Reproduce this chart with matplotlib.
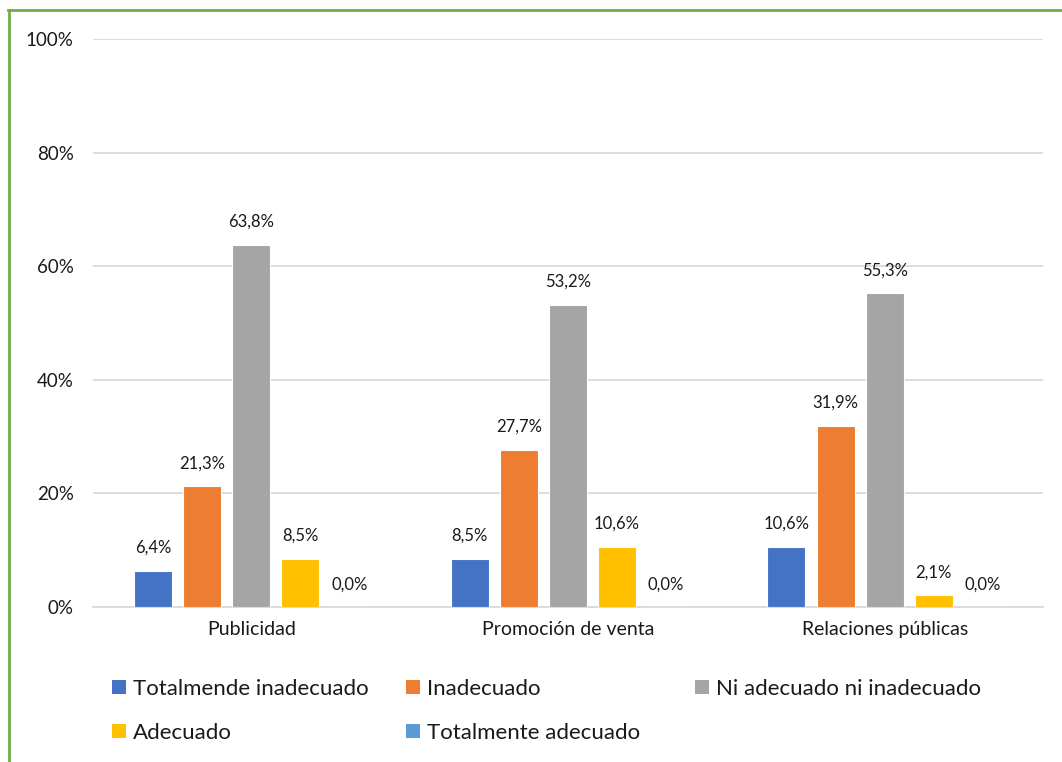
import matplotlib.pyplot as plt
import numpy as np
from matplotlib.lines import Line2D
from matplotlib.patches import Rectangle

plt.rcParams['font.family'] = ['Lato', 'DejaVu Sans']

categories = ["Publicidad", "Promoción de venta", "Relaciones públicas"]
series_names = [
    "Totalmende inadecuado",
    "Inadecuado",
    "Ni adecuado ni inadecuado",
    "Adecuado",
    "Totalmente adecuado",
]
totalmente_inadecuado = [6.4, 8.5, 10.6]
inadecuado = [21.3, 27.7, 31.9]
ni_adecuado = [63.8, 53.2, 55.3]
adecuado = [8.5, 10.6, 2.1]
totalmente_adecuado = [0.0, 0.0, 0.0]
colors = ["#4472C4", "#ED7D31", "#A5A5A5", "#FFC000", "#5B9BD5"]

series = [totalmente_inadecuado, inadecuado, ni_adecuado, adecuado, totalmente_adecuado]

W, H = 1062, 762
fig = plt.figure(figsize=(W / 100, H / 100), dpi=100)
ax = fig.add_axes([93 / W, 1 - 607 / H, 950 / W, 568 / H])

x = np.arange(len(categories))
width = 0.12
pitch = 0.155
for i, (vals, name, col) in enumerate(zip(series, series_names, colors)):
    pos = x + (i - 2) * pitch
    ax.bar(pos, vals, width, color=col, edgecolor="white", linewidth=0.8,
           label=name, zorder=3)
    for xp, v in zip(pos, vals):
        ax.text(xp, v + 2.6, f"{v:.1f}%".replace(".", ","), ha="center",
                va="bottom", fontsize=12, color="#1a1a1a")

ax.set_xlim(-0.5, 2.5)
ax.set_ylim(0, 100)
ax.set_yticks(range(0, 101, 20))
ax.set_yticklabels([f"{t}%" for t in range(0, 101, 20)], fontsize=13.5, color="#1a1a1a")
ax.set_xticks(x)
ax.set_xticklabels(categories, fontsize=14, color="#1a1a1a")
ax.tick_params(axis="y", length=0, pad=14)
ax.tick_params(axis="x", length=0, pad=10)
ax.grid(axis="y", color="#d9d9d9", linewidth=1.3, zorder=0)
for s in ["top", "right", "left"]:
    ax.spines[s].set_visible(False)
ax.spines["bottom"].set_color("#d9d9d9")
ax.spines["bottom"].set_linewidth(1.3)

# legend laid out in rows, three entries per row
legend_slots = [(112, 687), (406, 687), (695, 687), (112, 731), (406, 731)]
box = 14
for (lx, ly), name, col in zip(legend_slots, series_names, colors):
    fig.add_artist(Rectangle((lx / W, 1 - (ly + box / 2) / H), box / W, box / H,
                             transform=fig.transFigure, facecolor=col,
                             edgecolor="none"))
    fig.text((lx + box + 7) / W, 1 - ly / H, name, fontsize=16,
             va="center_baseline", ha="left", color="#1a1a1a")

# green frame along the top and left edges
fig.add_artist(Line2D([9 / W, 9 / W], [0, 1 - 10 / H],
                      transform=fig.transFigure, color="#70AD47", linewidth=2))
fig.add_artist(Line2D([8 / W, 1], [1 - 10 / H, 1 - 10 / H],
                      transform=fig.transFigure, color="#70AD47", linewidth=2))

fig.savefig("out.png", dpi=100)
